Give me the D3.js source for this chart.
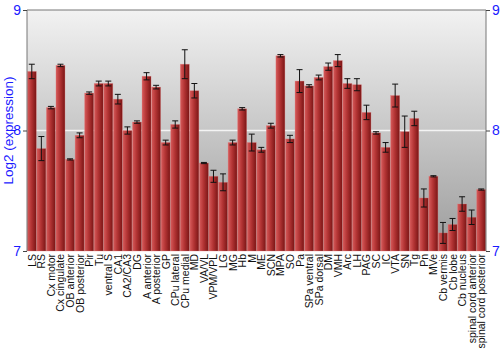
<!DOCTYPE html>
<html>
<head>
<meta charset="utf-8">
<script src="https://cdn.jsdelivr.net/npm/d3@7"></script>
<style>
  body { margin: 0; background: #fff; }
  text { font-family: "Liberation Sans", Arial, sans-serif; }
</style>
</head>
<body>
<script>
// regions (x categories)
const regions = ["LS", "RS", "Cx motor", "Cx cingulate", "OB anterior", "OB posterior", "Pir", "Tu",
  "ventral S", "CA1", "CA2/CA3", "DG", "A anterior", "A posterior", "GP", "CPu lateral", "CPu medial",
  "MD", "VA/VL", "VPM/VPL", "LG", "MG", "Hb", "M", "ME", "SCN", "MPA", "SO", "Pa", "SPa ventral",
  "SPa dorsal", "DM", "VMH", "Arc", "LH", "PAG", "SC", "IC", "VTA", "SN", "Tg", "Pn", "MVe",
  "Cb vermis", "Cb lobe", "Cb nucleus", "spinal cord anterior", "spinal cord posterior"];

// log2 expression
const values = [8.49, 7.85, 8.19, 8.54, 7.76, 7.96, 8.31, 8.39, 8.39, 8.26, 8.0, 8.07, 8.45, 8.36,
  7.9, 8.05, 8.55, 8.33, 7.73, 7.62, 7.57, 7.9, 8.18, 7.9, 7.84, 8.04, 8.62, 7.93, 8.41, 8.37,
  8.44, 8.53, 8.58, 8.39, 8.38, 8.15, 7.98, 7.86, 8.29, 7.99, 8.1, 7.44, 7.62, 7.15, 7.22, 7.39,
  7.28, 7.51];

// standard error
const errors = [0.06, 0.1, 0.01, 0.01, 0.005, 0.02, 0.01, 0.02, 0.02, 0.04, 0.03, 0.01, 0.03, 0.015,
  0.02, 0.03, 0.12, 0.06, 0.005, 0.05, 0.07, 0.02, 0.01, 0.07, 0.02, 0.02, 0.01, 0.03, 0.095, 0.01,
  0.02, 0.03, 0.05, 0.04, 0.05, 0.06, 0.01, 0.04, 0.095, 0.13, 0.06, 0.075, 0.005, 0.087, 0.05,
  0.06, 0.06, 0.005];

const yTicks = [7, 8, 9];

const width = 500, height = 350;
const mLeft = 27, mRight = 486, mTop = 10, mBottom = 251;

const svg = d3.select("body").append("svg")
  .attr("width", width)
  .attr("height", height);

const defs = svg.append("defs");
const bg = defs.append("linearGradient").attr("id", "bg")
  .attr("x1", 0).attr("y1", 0).attr("x2", 0).attr("y2", 1);
bg.append("stop").attr("offset", "0%").attr("stop-color", "#f2f2f2");
bg.append("stop").attr("offset", "100%").attr("stop-color", "#9c9c9c");

const barGrad = defs.append("linearGradient").attr("id", "bar")
  .attr("x1", 0).attr("y1", 0).attr("x2", 1).attr("y2", 0);
barGrad.append("stop").attr("offset", "0%").attr("stop-color", "#d65a5a");
barGrad.append("stop").attr("offset", "45%").attr("stop-color", "#b33434");
barGrad.append("stop").attr("offset", "100%").attr("stop-color", "#7a1515");

const x = d3.scaleBand()
  .domain(regions)
  .range([mLeft, mRight])
  .paddingInner(0.06)
  .paddingOuter(0.03);

const y = d3.scaleLinear()
  .domain([7, 9])
  .range([mBottom, mTop]);

// plot background
svg.append("rect")
  .attr("x", mLeft).attr("y", mTop)
  .attr("width", mRight - mLeft).attr("height", mBottom - mTop)
  .attr("fill", "url(#bg)");

// grid line at 8
svg.append("line")
  .attr("x1", mLeft).attr("x2", mRight)
  .attr("y1", y(8)).attr("y2", y(8))
  .attr("stroke", "#f4f4f4").attr("stroke-width", 1.5);

// bars
svg.selectAll("rect.bar")
  .data(values)
  .enter()
  .append("rect")
  .attr("class", "bar")
  .attr("x", (d, i) => x(regions[i]))
  .attr("y", d => y(d))
  .attr("width", x.bandwidth())
  .attr("height", d => mBottom - y(d))
  .attr("fill", "url(#bar)")
  .attr("stroke", "rgba(230,120,120,0.5)")
  .attr("stroke-width", 0.6);

// error bars
const eb = svg.append("g");
values.forEach((v, i) => {
  const cx = x(regions[i]) + x.bandwidth() / 2;
  const e = errors[i];
  const y1 = y(v + e), y2 = y(v - e);
  eb.append("line").attr("x1", cx).attr("x2", cx).attr("y1", y1).attr("y2", y2)
    .attr("stroke", "#111").attr("stroke-width", 1);
  [y1, y2].forEach(yy => {
    eb.append("line").attr("x1", cx - 3).attr("x2", cx + 3).attr("y1", yy).attr("y2", yy)
      .attr("stroke", "#111").attr("stroke-width", 1);
  });
});

// frame
svg.append("path")
  .attr("d", `M${mLeft},${mBottom}V${mTop}H${mRight}V${mBottom}`)
  .attr("fill", "none")
  .attr("stroke", "#777");

// axes
const yAxisL = d3.axisLeft(y).tickValues(yTicks).tickSize(4).tickPadding(2).tickFormat(d3.format("d"));
const yAxisR = d3.axisRight(y).tickValues(yTicks).tickSize(4).tickPadding(2).tickFormat(d3.format("d"));

[[yAxisL, mLeft], [yAxisR, mRight]].forEach(([ax, px]) => {
  const g = svg.append("g").attr("transform", `translate(${px},0)`).call(ax);
  g.select(".domain").remove();
  g.selectAll("line").attr("stroke", "#444");
  g.selectAll("text").attr("fill", "#1a1aff").style("font-size", "14px");
});

// x labels
svg.append("g").selectAll("text")
  .data(regions)
  .enter()
  .append("text")
  .attr("transform", d => `translate(${x(d) + x.bandwidth() / 2 + 4},${mBottom + 3}) rotate(-90)`)
  .attr("text-anchor", "end")
  .style("font-size", "10.5px")
  .attr("fill", "#111")
  .text(d => d);

// y title
svg.append("text")
  .attr("transform", `translate(13,${(mTop + mBottom) / 2}) rotate(-90)`)
  .attr("text-anchor", "middle")
  .style("font-size", "13.5px")
  .attr("fill", "#1a1aff")
  .text("Log2 (expression)");
</script>
</body>
</html>
